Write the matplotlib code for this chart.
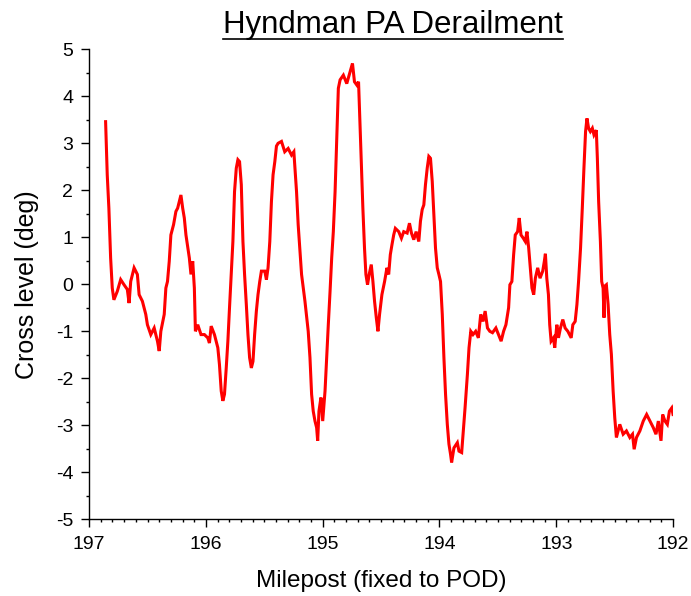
import numpy as np
import matplotlib
matplotlib.use('Agg')
import matplotlib.pyplot as plt
from matplotlib.lines import Line2D
from matplotlib.ticker import MultipleLocator

plt.rcParams['font.family'] = ['Liberation Sans', 'DejaVu Sans']
plt.rcParams['axes.unicode_minus'] = False

# digitized track geometry (milepost, cross level in deg)
milepost = [196.859, 196.845, 196.831, 196.816, 196.802, 196.788, 196.759, 196.730, 196.701, 196.673,
            196.658, 196.644, 196.615, 196.587, 196.572, 196.544, 196.515, 196.501, 196.472, 196.443,
            196.429, 196.415, 196.400, 196.386, 196.357, 196.343, 196.329, 196.314, 196.300, 196.277,
            196.257, 196.242, 196.214, 196.199, 196.185, 196.171, 196.142, 196.128, 196.113, 196.099,
            196.090, 196.070, 196.042, 196.013, 195.984, 195.970, 195.955, 195.927, 195.898, 195.884,
            195.869, 195.855, 195.841, 195.826, 195.812, 195.798, 195.783, 195.769, 195.755, 195.740,
            195.726, 195.712, 195.697, 195.683, 195.669, 195.654, 195.640, 195.626, 195.611, 195.597,
            195.583, 195.568, 195.554, 195.539, 195.525, 195.496, 195.482, 195.468, 195.453, 195.439,
            195.425, 195.410, 195.396, 195.382,
            195.353, 195.325, 195.296, 195.267, 195.247, 195.224, 195.210, 195.196, 195.181, 195.152,
            195.124, 195.109, 195.095, 195.081, 195.066, 195.052, 195.043, 195.032, 195.015, 195.000,
            194.980, 194.966, 194.952, 194.937, 194.923, 194.909, 194.894, 194.880, 194.866, 194.851,
            194.823, 194.794, 194.765, 194.745, 194.728, 194.708, 194.693, 194.685, 194.670, 194.656,
            194.642, 194.630, 194.616, 194.602, 194.584, 194.570, 194.556, 194.541, 194.527, 194.513,
            194.493, 194.470, 194.450, 194.435, 194.421, 194.407, 194.392, 194.378, 194.349, 194.326,
            194.306, 194.277, 194.257, 194.240, 194.220, 194.200, 194.177, 194.163, 194.148, 194.134,
            194.120, 194.105, 194.091, 194.077, 194.062, 194.048, 194.034, 194.019, 194.005, 193.991,
            193.976, 193.962, 193.948, 193.933, 193.919, 193.905, 193.896, 193.876, 193.847, 193.833,
            193.810, 193.798, 193.781, 193.761, 193.747, 193.732,
            193.713, 193.690, 193.667, 193.647, 193.627, 193.609, 193.589, 193.569, 193.546, 193.517,
            193.495, 193.472, 193.451, 193.431, 193.408, 193.397, 193.380, 193.365, 193.351, 193.331,
            193.317, 193.302, 193.282, 193.265, 193.251, 193.236, 193.222, 193.208, 193.193, 193.179,
            193.159, 193.139, 193.116, 193.102, 193.093, 193.081, 193.067, 193.056, 193.044, 193.024,
            193.013, 192.995, 192.981, 192.964, 192.944, 192.924, 192.901, 192.872, 192.858, 192.838,
            192.823, 192.809, 192.792, 192.777, 192.763, 192.749, 192.737, 192.723, 192.708, 192.691,
            192.677, 192.657, 192.648, 192.637, 192.622, 192.611, 192.599, 192.591, 192.585, 192.571,
            192.556, 192.542, 192.528, 192.513, 192.499, 192.485, 192.456, 192.427, 192.399, 192.370,
            192.347, 192.333, 192.313, 192.284, 192.255, 192.226, 192.198, 192.169, 192.146, 192.126,
            192.103, 192.089, 192.069, 192.049, 192.031, 192.011, 192.000]
cross_level = [3.46, 2.33, 1.62, 0.56, -0.08, -0.33, -0.15, 0.10, -0.01, -0.11,
               -0.40, 0.06, 0.35, 0.21, -0.22, -0.36, -0.64, -0.86, -1.07, -0.93,
               -1.07, -1.21, -1.42, -1.00, -0.64, -0.08, 0.06, 0.49, 1.05, 1.27,
               1.55, 1.62, 1.90, 1.62, 1.41, 1.05, 0.56, 0.21, 0.49, -0.08,
               -1.00, -0.86, -1.07, -1.07, -1.14, -1.25, -0.89, -1.07, -1.35, -1.71,
               -2.27, -2.48, -2.34, -1.78, -1.21, -0.50, 0.21, 0.91, 1.97, 2.47,
               2.65, 2.61, 2.12, 0.91, 0.21, -0.43, -1.07, -1.56, -1.78, -1.64,
               -1.07, -0.57, -0.22, 0.06, 0.28, 0.28, 0.10, 0.35, 0.91, 1.76,
               2.33, 2.61, 2.94, 3.00,
               3.04, 2.82, 2.89, 2.75, 2.82, 1.97, 1.27, 0.77, 0.21, -0.36,
               -1.00, -1.56, -2.34, -2.70, -2.91, -3.05, -3.33, -2.70, -2.41, -2.91,
               -2.27, -1.56, -0.86, -0.15, 0.56, 1.12, 1.97, 3.04, 4.17, 4.35,
               4.45, 4.27, 4.52, 4.70, 4.31, 4.24, 4.31, 3.74, 2.68, 1.62,
               0.77, 0.21, -0.01, 0.21, 0.42, 0.06, -0.36, -0.71, -1.00, -0.64,
               -0.22, 0.06, 0.35, 0.21, 0.63, 0.84, 1.05, 1.19, 1.12, 0.98,
               1.12, 1.09, 1.30, 1.09, 0.95, 1.12, 0.91, 1.34, 1.59, 1.69,
               2.12, 2.47, 2.72, 2.68, 2.19, 1.48, 0.77, 0.35, 0.21, 0.06,
               -0.64, -1.56, -2.34, -2.98, -3.40, -3.62, -3.79, -3.48, -3.37, -3.55,
               -3.58, -3.19, -2.63, -1.92, -1.35, -1.00,
               -1.07, -1.00, -1.14, -0.64, -0.79, -0.57, -0.93, -1.00, -1.03, -0.93,
               -1.07, -1.21, -1.00, -0.86, -0.50, -0.01, 0.06, 0.63, 1.05, 1.12,
               1.41, 1.05, 0.98, 0.91, 1.12, 0.77, 0.35, -0.08, -0.22, 0.13,
               0.35, 0.13, 0.28, 0.49, 0.65, 0.13, -0.22, -0.86, -1.21, -1.14,
               -1.35, -0.86, -1.14, -0.93, -0.75, -0.93, -1.00, -1.14, -0.86, -0.79,
               -0.43, 0.06, 0.77, 1.62, 2.47, 3.25, 3.53, 3.32, 3.25, 3.32,
               3.18, 3.28, 2.68, 1.76, 0.91, 0.06, -0.08, -0.71, -0.04, -0.01,
               -0.43, -1.07, -1.49, -2.27, -2.84, -3.26, -2.98, -3.19, -3.12, -3.26,
               -3.19, -3.51, -3.26, -3.12, -2.91, -2.77, -2.91, -3.05, -3.19, -2.91,
               -3.33, -2.77, -2.91, -2.98, -2.70, -2.63, -2.77]

xticks = [197, 196, 195, 194, 193, 192]
yticks = [-5, -4, -3, -2, -1, 0, 1, 2, 3, 4, 5]

fig = plt.figure(figsize=(6.91, 5.96), dpi=100)
ax = fig.add_axes([0.129, 0.1287, 0.845, 0.7886])

ax.plot(milepost, cross_level, color='#ff0000', lw=2.2, solid_joinstyle='miter')

ax.set_xlim(197, 192)
ax.set_ylim(-5, 5)
ax.set_xticks(xticks)
ax.set_yticks(yticks)
ax.xaxis.set_minor_locator(MultipleLocator(0.1))
ax.yaxis.set_minor_locator(MultipleLocator(0.5))
ax.tick_params(which='major', direction='out', length=5.5, width=1.0, labelsize=14)
ax.tick_params(axis='y', which='major', pad=6)
ax.tick_params(axis='x', which='major', pad=6.5)
ax.tick_params(which='minor', direction='out', length=2.5, width=1.0)

for side in ['top', 'right']:
    ax.spines[side].set_visible(False)
for side in ['left', 'bottom']:
    ax.spines[side].set_linewidth(1.0)

ax.set_xlabel('Milepost (fixed to POD)', fontsize=17.5, labelpad=12)
ax.set_ylabel('Cross level (deg)', fontsize=18, labelpad=12)

# underlined title
ttl = fig.text(393/691, 1 - 25/596, 'Hyndman PA Derailment', fontsize=22.5,
               ha='center', va='center')
fig.canvas.draw()
bb = ttl.get_window_extent().transformed(fig.transFigure.inverted())
uy = 1 - 39/596
fig.add_artist(Line2D([bb.x0, bb.x1], [uy, uy], color='black', lw=1.2,
                      transform=fig.transFigure))

fig.savefig('out.png', dpi=100)
